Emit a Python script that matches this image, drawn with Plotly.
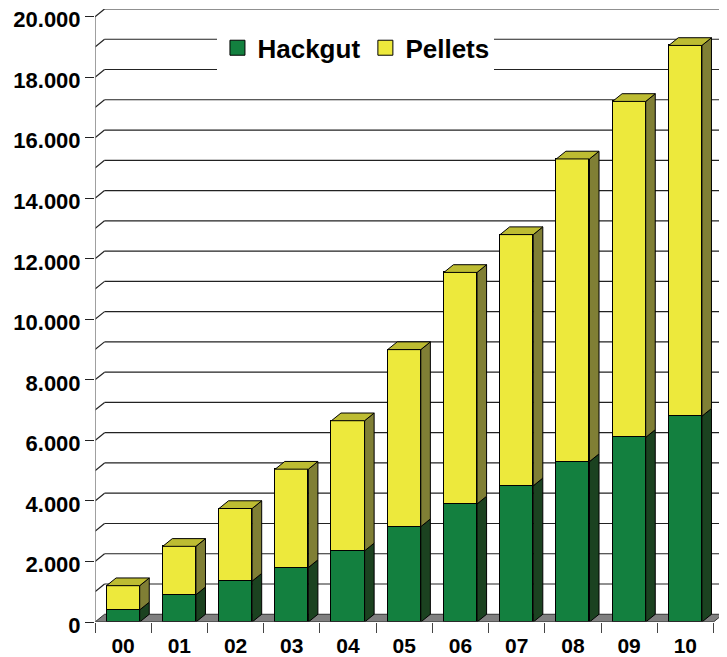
import plotly.graph_objects as go

# ---- data ----
YEARS = ["00", "01", "02", "03", "04", "05", "06", "07", "08", "09", "10"]
HACKGUT = [400, 900, 1350, 1800, 2350, 3150, 3900, 4500, 5300, 6100, 6800]
PELLETS = [800, 1600, 2400, 3250, 4300, 5850, 7650, 8300, 10000, 11100, 12250]
Y_TICKS = [0, 2000, 4000, 6000, 8000, 10000, 12000, 14000, 16000, 18000, 20000]
GRID_STEP = 1000

# ---- style constants ----
BAR_W = 0.59
DX = 0.17        # depth offset along x (category units)
DY = 255         # depth offset along y (value units)
Y_MAX = 20254
FONT = "Liberation Sans, Arial, sans-serif"

GREEN = "#13803f"
GREEN_SIDE = "#1b4220"
YELLOW = "#ede93c"
YELLOW_SIDE = "#807f35"
YELLOW_TOP = "#bdbc32"

xs = list(range(len(YEARS)))
totals = [h + p for h, p in zip(HACKGUT, PELLETS)]
x_lo, x_hi = -0.5, len(YEARS) - 0.5

def side_polys(bottoms, tops):
    px, py = [], []
    for i, (b, t) in enumerate(zip(bottoms, tops)):
        r = i + BAR_W / 2
        px += [r, r + DX, r + DX, r, r, None]
        py += [b, b + DY, t + DY, t, b, None]
    return px, py

def top_polys(tops):
    px, py = [], []
    for i, t in enumerate(tops):
        l, r = i - BAR_W / 2, i + BAR_W / 2
        px += [l, l + DX, r + DX, r, l, None]
        py += [t, t + DY, t + DY, t, t, None]
    return px, py

fig = go.Figure()

fig.add_trace(go.Bar(x=xs, y=HACKGUT, width=BAR_W, marker=dict(color=GREEN, line=dict(color="#000", width=1)),
                     showlegend=False, name="Hackgut"))
fig.add_trace(go.Bar(x=xs, y=PELLETS, width=BAR_W, marker=dict(color=YELLOW, line=dict(color="#000", width=1)),
                     showlegend=False, name="Pellets"))

gx, gy = side_polys([0] * len(xs), HACKGUT)
fig.add_trace(go.Scatter(x=gx, y=gy, fill="toself", fillcolor=GREEN_SIDE, mode="lines",
                         line=dict(color="#000", width=1), showlegend=False, hoverinfo="skip"))
yx, yy = side_polys(HACKGUT, totals)
fig.add_trace(go.Scatter(x=yx, y=yy, fill="toself", fillcolor=YELLOW_SIDE, mode="lines",
                         line=dict(color="#000", width=1), showlegend=False, hoverinfo="skip"))
tx, ty = top_polys(totals)
fig.add_trace(go.Scatter(x=tx, y=ty, fill="toself", fillcolor=YELLOW_TOP, mode="lines",
                         line=dict(color="#000", width=1), showlegend=False, hoverinfo="skip"))

# legend entries
for name, col in [("Hackgut", GREEN), ("Pellets", YELLOW)]:
    fig.add_trace(go.Scatter(x=[None], y=[None], mode="markers", name=name,
                             marker=dict(symbol="square", size=15, color=col, line=dict(color="#000", width=1))))

shapes = []
# floor
shapes.append(dict(type="path", xref="x", yref="y", layer="below",
                   path=f"M {x_lo},0 L {x_hi},0 L {x_hi + DX},{DY} L {x_lo + DX},{DY} Z",
                   fillcolor="#808080", line=dict(color="#333", width=1)))
# back wall grid lines
for v in range(GRID_STEP, Y_TICKS[-1] + 1, GRID_STEP):
    shapes.append(dict(type="line", xref="x", yref="y", layer="below",
                       x0=x_lo, y0=v, x1=x_lo + DX, y1=v + DY, line=dict(color="#222", width=1.2)))
    shapes.append(dict(type="line", xref="x", yref="y", layer="below",
                       x0=x_lo + DX, y0=v + DY, x1=x_hi + DX, y1=v + DY, line=dict(color="#222", width=1.2)))
# axes
shapes.append(dict(type="line", xref="x", yref="y", layer="above",
                   x0=x_lo, y0=0, x1=x_lo, y1=Y_TICKS[-1], line=dict(color="#888", width=1.6)))
shapes.append(dict(type="line", xref="x", yref="y", layer="above",
                   x0=x_lo, y0=0, x1=x_hi, y1=0, line=dict(color="#555", width=1.2)))

fig.update_layout(
    width=727, height=657,
    margin=dict(l=87, r=12, t=1, b=43),
    paper_bgcolor="white", plot_bgcolor="white",
    barmode="stack", bargap=0,
    shapes=shapes,
    font=dict(family=FONT, color="#000"),
    legend=dict(orientation="h", x=0.195, y=0.975, xanchor="left", yanchor="top",
                traceorder="normal", bgcolor="white", borderwidth=0,
                font=dict(family=FONT, size=26, weight="bold", color="#000")),
    xaxis=dict(range=[x_lo, x_hi + DX], tickvals=xs, ticktext=YEARS, automargin=False,
               showgrid=False, zeroline=False, showline=False, ticklabeloverflow="allow",
               ticks="outside", ticklen=5, tickcolor="rgba(0,0,0,0)",
               tickfont=dict(family=FONT, size=21, weight="bold", color="#000"),
               minor=dict(tick0=-0.5, dtick=1, ticks="outside", ticklen=10, tickcolor="#444", tickwidth=1,
                          showgrid=False)),
    yaxis=dict(range=[0, Y_MAX], tickvals=Y_TICKS, automargin=False, ticklabeloverflow="allow",
               ticktext=[f"{v:,}".replace(",", ".") for v in Y_TICKS], ticklabelshift=3,
               showgrid=False, zeroline=False, showline=False,
               ticks="outside", ticklen=9, tickcolor="#222", tickwidth=1,
               tickfont=dict(family=FONT, size=22, weight="bold", color="#000")),
)

fig.write_html("out.html")
